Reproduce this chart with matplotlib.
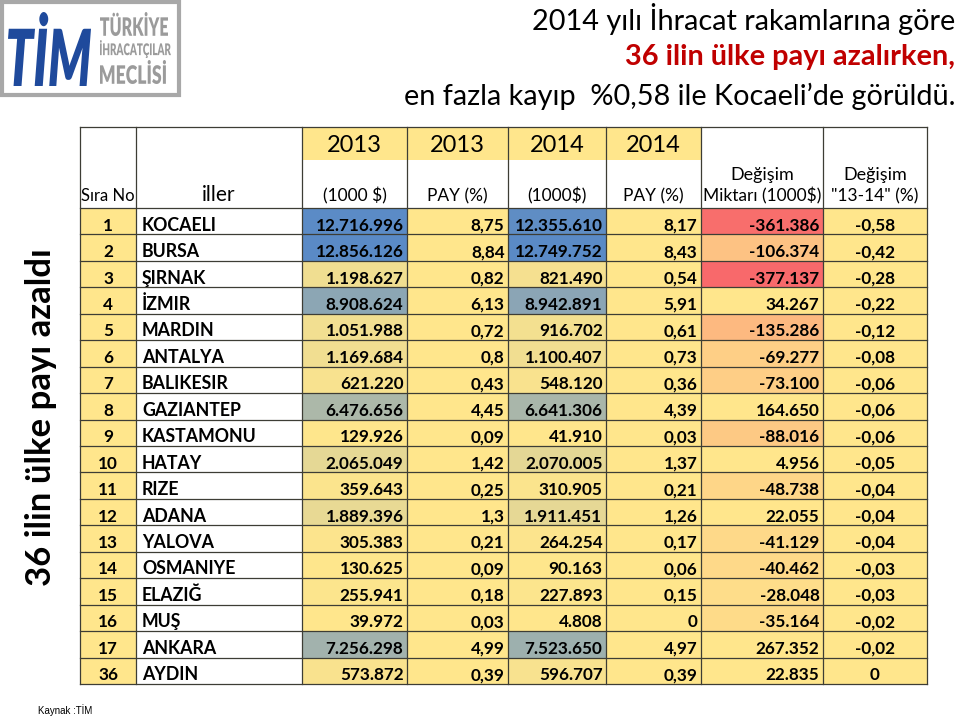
import matplotlib
matplotlib.use("Agg")
import matplotlib.pyplot as plt
from matplotlib.patches import Rectangle, PathPatch
from matplotlib.textpath import TextPath
from matplotlib.font_manager import FontProperties
from matplotlib.transforms import Affine2D
from matplotlib.colors import LinearSegmentedColormap, Normalize, TwoSlopeNorm

plt.rcParams['font.family'] = ['Lato', 'DejaVu Sans']

# table data
sira = [1, 2, 3, 4, 5, 6, 7, 8, 9, 10, 11, 12, 13, 14, 15, 16, 17, 36]
iller = ["KOCAELI", "BURSA", "ŞIRNAK", "İZMIR", "MARDIN", "ANTALYA", "BALIKESIR",
         "GAZIANTEP", "KASTAMONU", "HATAY", "RIZE", "ADANA", "YALOVA", "OSMANIYE",
         "ELAZIĞ", "MUŞ", "ANKARA", "AYDIN"]
ihr_2013 = [12716996, 12856126, 1198627, 8908624, 1051988, 1169684, 621220, 6476656,
            129926, 2065049, 359643, 1889396, 305383, 130625, 255941, 39972, 7256298, 573872]
pay_2013 = [8.75, 8.84, 0.82, 6.13, 0.72, 0.8, 0.43, 4.45, 0.09, 1.42, 0.25, 1.3,
            0.21, 0.09, 0.18, 0.03, 4.99, 0.39]
ihr_2014 = [12355610, 12749752, 821490, 8942891, 916702, 1100407, 548120, 6641306,
            41910, 2070005, 310905, 1911451, 264254, 90163, 227893, 4808, 7523650, 596707]
pay_2014 = [8.17, 8.43, 0.54, 5.91, 0.61, 0.73, 0.36, 4.39, 0.03, 1.37, 0.21, 1.26,
            0.17, 0.06, 0.15, 0, 4.97, 0.39]
degisim = [-361386, -106374, -377137, 34267, -135286, -69277, -73100, 164650, -88016,
           4956, -48738, 22055, -41129, -40462, -28048, -35164, 267352, 22835]
degisim_pct = [-0.58, -0.42, -0.28, -0.22, -0.12, -0.08, -0.06, -0.06, -0.06, -0.05,
               -0.04, -0.04, -0.04, -0.03, -0.03, -0.02, -0.02, 0]

years = ["2013", "2013", "2014", "2014"]
sub_heads = ["(1000 $)", "PAY (%)", "(1000$)", "PAY (%)"]

YELLOW = "#FFE68C"
BLUE = "#5A8AC6"
RED = "#F8696B"
LINE = "#3d3d35"


def binlik(v):
    return f"{v:,}".replace(",", ".")


def virgul(v):
    return f"{v:g}".replace(".", ",")


def fit_text(ax, s, x0, y0, x1, y1, color, prop):
    # squeeze a text path into a box (y axis is inverted)
    tp = TextPath((0, 0), s, prop=prop, size=10)
    bb = tp.get_extents()
    tr = (Affine2D().translate(-bb.x0, -bb.y0)
          .scale((x1 - x0) / bb.width, -(y1 - y0) / bb.height)
          .translate(x0, y1))
    ax.add_patch(PathPatch(tr.transform_path(tp), fc=color, ec="none"))


fig = plt.figure(figsize=(9.6, 7.17), dpi=100)
ax = fig.add_axes([0, 0, 1, 1])
ax.set_xlim(0, 960)
ax.set_ylim(717, 0)
ax.axis("off")

# logo
ax.add_patch(Rectangle((1.5, 1.5), 177, 93, fc="white", ec="#A8A8A8", lw=3))
fit_text(ax, "TİM", 8, 12, 91, 86, "#1F4A9C",
         FontProperties(family="Lato", weight="heavy", style="italic"))
grey_prop = FontProperties(family="Lato", weight="heavy")
fit_text(ax, "TÜRKİYE", 100, 12, 168, 36, "#9B9B9B", grey_prop)
fit_text(ax, "İHRACATÇILAR", 100, 40, 171, 58, "#9B9B9B", grey_prop)
fit_text(ax, "MECLİSİ", 100, 60, 166, 84, "#9B9B9B", grey_prop)

# title
ax.text(955, 19, "2014 yılı İhracat rakamlarına göre", ha="right", va="center",
        fontsize=20.8, color="black")
ax.text(955, 57, "36 ilin ülke payı azalırken,", ha="right", va="center",
        fontsize=20.8, color="#C00000", fontweight="bold")
ax.text(955, 96, "en fazla kayıp  %0,58 ile Kocaeli’de görüldü.", ha="right", va="center",
        fontsize=20.8, color="black")

ax.text(41, 417, "36 ilin ülke payı azaldı", rotation=90, ha="center", va="center",
        fontsize=25, fontweight="bold")
ax.text(38, 710, "Kaynak :TİM", ha="left", va="center", fontsize=7,
        family=["Liberation Sans", "DejaVu Sans"])

# table geometry
cols = [80, 136, 302, 407, 508, 606, 701, 823, 927]
head_top, year_bot, row_top = 127, 160, 208
n = len(sira)
row_h = (684 - row_top) / n

cmap_blue = LinearSegmentedColormap.from_list("yb", [YELLOW, BLUE])
norm13 = Normalize(min(ihr_2013), max(ihr_2013))
norm14 = Normalize(min(ihr_2014), max(ihr_2014))
cmap_red = LinearSegmentedColormap.from_list("ry", [RED, YELLOW, YELLOW])
norm_d = TwoSlopeNorm(vcenter=0, vmin=min(degisim), vmax=max(degisim))

# header
hs = 12.5
for j in range(4):
    x0, x1 = cols[2 + j], cols[3 + j]
    ax.add_patch(Rectangle((x0, head_top), x1 - x0, year_bot - head_top, fc=YELLOW, ec="none"))
    ax.text((x0 + x1) / 2, 145, years[j], ha="center", va="center", fontsize=17)
    ax.text((x0 + x1) / 2, 201, sub_heads[j], ha="center", va="baseline", fontsize=hs)
ax.text((cols[0] + cols[1]) / 2, 201, "Sıra No", ha="center", va="baseline", fontsize=12)
ax.text((cols[1] + cols[2]) / 2, 201, "iller", ha="center", va="baseline", fontsize=15)
ax.text((cols[6] + cols[7]) / 2, 180, "Değişim", ha="center", va="baseline", fontsize=13)
ax.text((cols[6] + cols[7]) / 2, 201, "Miktarı (1000$)", ha="center", va="baseline", fontsize=hs)
ax.text((cols[7] + cols[8]) / 2, 180, "Değişim", ha="center", va="baseline", fontsize=13)
ax.text((cols[7] + cols[8]) / 2, 201, '"13-14" (%)', ha="center", va="baseline", fontsize=hs)

# body
fs = 12.3
for i in range(n):
    y0 = row_top + i * row_h
    fills = [YELLOW, "white", cmap_blue(norm13(ihr_2013[i])), YELLOW,
             cmap_blue(norm14(ihr_2014[i])), YELLOW, cmap_red(norm_d(degisim[i])), YELLOW]
    for j in range(8):
        ax.add_patch(Rectangle((cols[j], y0), cols[j + 1] - cols[j], row_h, fc=fills[j], ec="none"))
    yb = y0 + row_h - 3.8
    pad = 3.5
    ax.text((cols[0] + cols[1]) / 2, yb, str(sira[i]), ha="center", va="baseline", fontsize=fs, fontweight="bold")
    ax.text(cols[1] + 6, yb, iller[i], ha="left", va="baseline", fontsize=fs + 0.5, fontweight="bold")
    ax.text(cols[3] - pad, yb, binlik(ihr_2013[i]), ha="right", va="baseline", fontsize=fs, fontweight="bold")
    ax.text(cols[4] - pad, yb, virgul(pay_2013[i]), ha="right", va="baseline", fontsize=fs, fontweight="bold")
    ax.text(cols[5] - pad, yb, binlik(ihr_2014[i]), ha="right", va="baseline", fontsize=fs, fontweight="bold")
    ax.text(cols[6] - pad, yb, virgul(pay_2014[i]), ha="right", va="baseline", fontsize=fs, fontweight="bold")
    ax.text(cols[7] - pad, yb, binlik(degisim[i]), ha="right", va="baseline", fontsize=fs, fontweight="bold")
    ax.text((cols[7] + cols[8]) / 2, yb, virgul(degisim_pct[i]), ha="center", va="baseline", fontsize=fs, fontweight="bold")

# grid lines
bottom = row_top + n * row_h
for x in cols:
    ax.plot([x, x], [head_top, bottom], color=LINE, lw=0.9)
ax.plot([cols[0], cols[-1]], [head_top, head_top], color=LINE, lw=0.9)
for i in range(n + 1):
    y = row_top + i * row_h
    ax.plot([cols[0], cols[-1]], [y, y], color=LINE, lw=0.9)

fig.savefig("out.png", dpi=100)
